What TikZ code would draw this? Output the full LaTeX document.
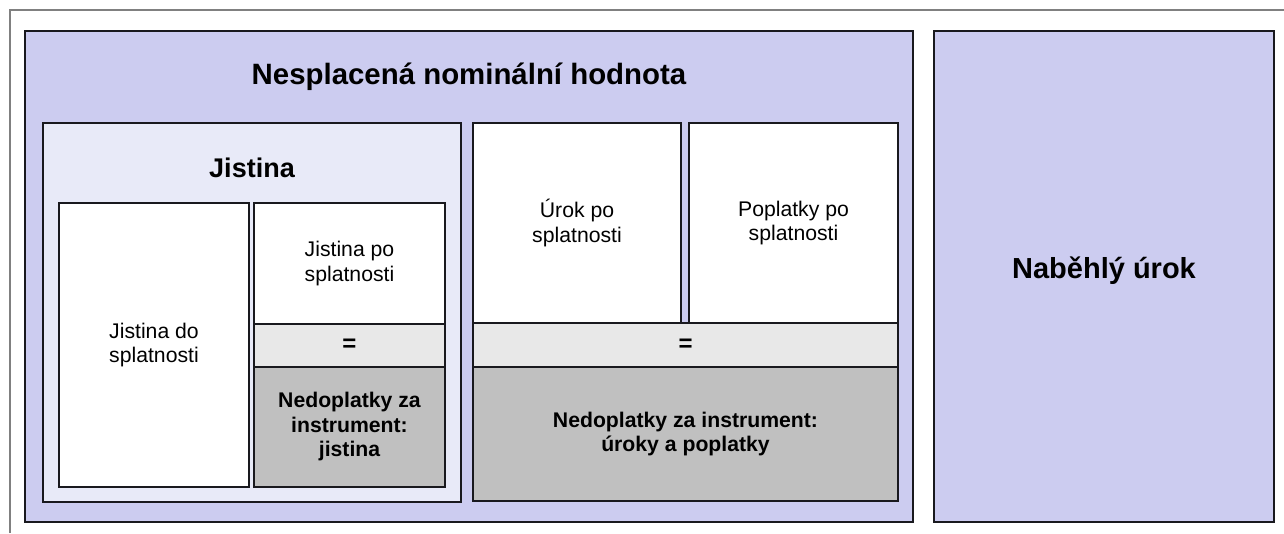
\documentclass[tikz,border=0pt]{standalone}
\usepackage{fontspec}
\setmainfont{Liberation Sans}
\definecolor{lav}{RGB}{204,204,240}
\definecolor{palelav}{RGB}{232,234,248}
\definecolor{eqgray}{RGB}{232,232,232}
\definecolor{dkgray}{RGB}{192,192,192}
\definecolor{edge}{RGB}{25,25,30}
\definecolor{frame}{RGB}{128,128,128}
\tikzset{
  box/.style={draw=edge, line width=2pt, rectangle, inner sep=0pt, outer sep=0pt, align=center, text=black},
  reg/.style={font=\fontsize{21.2}{24.5}\selectfont},
  bld/.style={font=\fontsize{21.2}{24.5}\selectfont\bfseries},
  eqs/.style={font=\fontsize{24}{28}\selectfont\bfseries},
  lbl/.style={inner sep=0pt, align=center, text=black},
}
\begin{document}
\begin{tikzpicture}[x=1pt,y=-1pt]
\useasboundingbox (0,0) rectangle (1284,533);
\fill[white] (0,0) rectangle (1284,533);
\coordinate (fA) at (10,533);
\coordinate (fB) at (10,10);
\coordinate (fC) at (1284,10);
\draw[frame, line width=2pt] (fA) -- (fB) -- (fC);
% main outer boxes
\node[box, fill=lav, minimum width=888pt, minimum height=491pt] (main) at (469,276.5) {};
\node[box, fill=lav, minimum width=340pt, minimum height=491pt] (nab) at (1104,276.5) {};
\node[lbl, font=\fontsize{29}{34}\selectfont\bfseries] (nablbl) at (1104,271) {Naběhlý úrok};
\node[lbl, font=\fontsize{29.4}{34}\selectfont\bfseries] (title) at (469,77) {Nesplacená nominální hodnota};
% Jistina group
\node[box, fill=palelav, minimum width=418pt, minimum height=379pt] (jist) at (252,312.5) {};
\node[lbl, font=\fontsize{27}{32}\selectfont\bfseries] (jistlbl) at (252,168) {Jistina};
\node[box, fill=white, reg, minimum width=190pt, minimum height=284pt] (jdo) at (154,345) {Jistina do\\splatnosti};
\node[box, fill=white, reg, minimum width=191pt, minimum height=121pt] (jpo) at (349.5,263.5) {Jistina po\\splatnosti};
\node[box, fill=eqgray, eqs, minimum width=191pt, minimum height=43pt] (jeq) at (349.5,345.5) {=};
\node[box, fill=dkgray, bld, minimum width=191pt, minimum height=120pt] (jned) at (349.5,427) {Nedoplatky za\\instrument:\\jistina};
% right group
\node[box, fill=white, reg, minimum width=208pt, minimum height=200pt] (urok) at (577,223) {Úrok po\\splatnosti};
\node[box, fill=white, reg, minimum width=209pt, minimum height=200pt] (popl) at (793.5,223) {Poplatky po\\splatnosti};
\node[box, fill=eqgray, eqs, minimum width=425pt, minimum height=44pt] (req) at (685.5,345) {=};
\node[box, fill=dkgray, bld, minimum width=425pt, minimum height=134pt] (rned) at (685.5,434) {Nedoplatky za instrument:\\úroky a poplatky};
\end{tikzpicture}
\end{document}
